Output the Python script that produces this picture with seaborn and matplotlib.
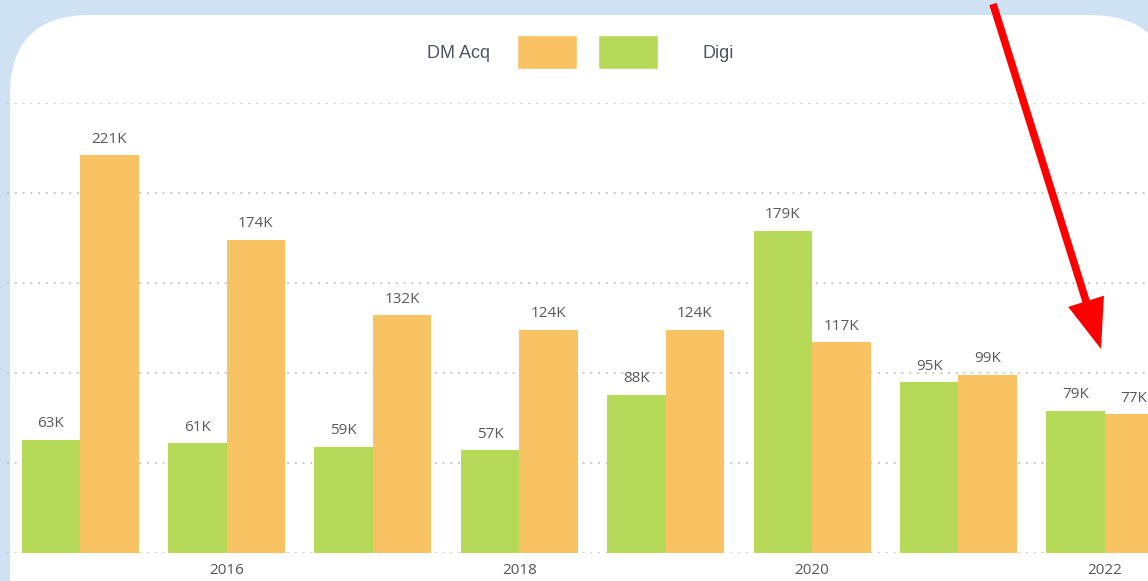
import matplotlib
matplotlib.use("Agg")
import matplotlib.pyplot as plt
from matplotlib.patches import FancyBboxPatch, FancyArrowPatch, Patch
import seaborn as sns
import pandas as pd

# ---- data ----
years = ["2015", "2016", "2017", "2018", "2019", "2020", "2021", "2022"]
digi = [63, 61, 59, 57, 88, 179, 95, 79]
dm_acq = [221, 174, 132, 124, 124, 117, 99, 77]
series_names = ["Digi", "DM Acq"]
colors = {"Digi": "#b6d957", "DM Acq": "#f9c364"}

df = pd.DataFrame({
    "year": years * 2,
    "series": ["Digi"] * len(years) + ["DM Acq"] * len(years),
    "value": digi + dm_acq,
})

sns.set_theme(style="white")
plt.rcParams["font.family"] = ["Open Sans", "DejaVu Sans"]

W, H = 1148, 581
fig = plt.figure(figsize=(W / 100, H / 100), dpi=100)
fig.patch.set_facecolor("#cfe2f3")

# background panel (pixel coordinates)
ax_bg = fig.add_axes([0, 0, 1, 1], zorder=0)
ax_bg.set_xlim(0, W)
ax_bg.set_ylim(H, 0)
ax_bg.axis("off")
panel = FancyBboxPatch((10, 15), 1160, 700, boxstyle="round,pad=0,rounding_size=80",
                       facecolor="white", edgecolor="none")
ax_bg.add_patch(panel)

# chart axes
left = 7 / W
bottom = (H - 553) / H
height = 450 / H
width = 1171 / W
ax = fig.add_axes([left, bottom, width, height], zorder=1)
ax.set_facecolor("none")

sns.barplot(data=df, x="year", y="value", hue="series", hue_order=series_names,
            palette=colors, width=0.8, linewidth=0, saturation=1, ax=ax, legend=False)

ax.set_xlim(-0.5, len(years) - 0.5)
ax.set_ylim(0, 250)
ax.set_yticks([0, 50, 100, 150, 200, 250])
ax.yaxis.grid(True, linestyle=(0, (1, 3)), color="#c8c8c8", linewidth=1.4)
ax.set_axisbelow(True)
ax.tick_params(axis="y", left=False, labelleft=False)
ax.tick_params(axis="x", bottom=False, pad=1.5, labelsize=11, labelcolor="#555555")
ax.set_xticks(range(len(years)))
ax.set_xticklabels([y if int(y) % 2 == 0 else "" for y in years])
ax.set_xlabel("")
ax.set_ylabel("")
for s in ax.spines.values():
    s.set_visible(False)

for cont in ax.containers:
    ax.bar_label(cont, labels=[f"{v:.0f}K" for v in cont.datavalues], padding=6,
                 fontsize=11, color="#5a5a5a")

# legend: "DM Acq" [orange] [green] "Digi"
leg_font = {"family": ["Liberation Sans", "DejaVu Sans"], "size": 13}
leg1 = fig.legend(handles=[Patch(facecolor=colors["DM Acq"])], labels=["DM Acq"],
                  loc="center right", bbox_to_anchor=(577 / W, 1 - 52 / H),
                  frameon=False, markerfirst=False, prop=leg_font,
                  handlelength=3.3, handleheight=2.5, handletextpad=1.5,
                  borderpad=0, borderaxespad=0)
leg2 = fig.legend(handles=[Patch(facecolor=colors["Digi"])], labels=["Digi"],
                  loc="center left", bbox_to_anchor=(598 / W, 1 - 52 / H),
                  frameon=False, markerfirst=True, prop=leg_font,
                  handlelength=3.3, handleheight=2.5, handletextpad=2.5,
                  borderpad=0, borderaxespad=0)
for lg in (leg1, leg2):
    for t in lg.get_texts():
        t.set_color("#4d5560")

# red arrow annotation
arrow = FancyArrowPatch((993, 4), (1101, 349), transform=ax_bg.transData,
                        arrowstyle="simple,head_length=36,head_width=27,tail_width=5.5",
                        mutation_scale=1, color="#ff0000", linewidth=0,
                        shrinkA=0, shrinkB=0, zorder=5)
fig.add_artist(arrow)

fig.savefig("out.png", dpi=100, facecolor=fig.get_facecolor())
